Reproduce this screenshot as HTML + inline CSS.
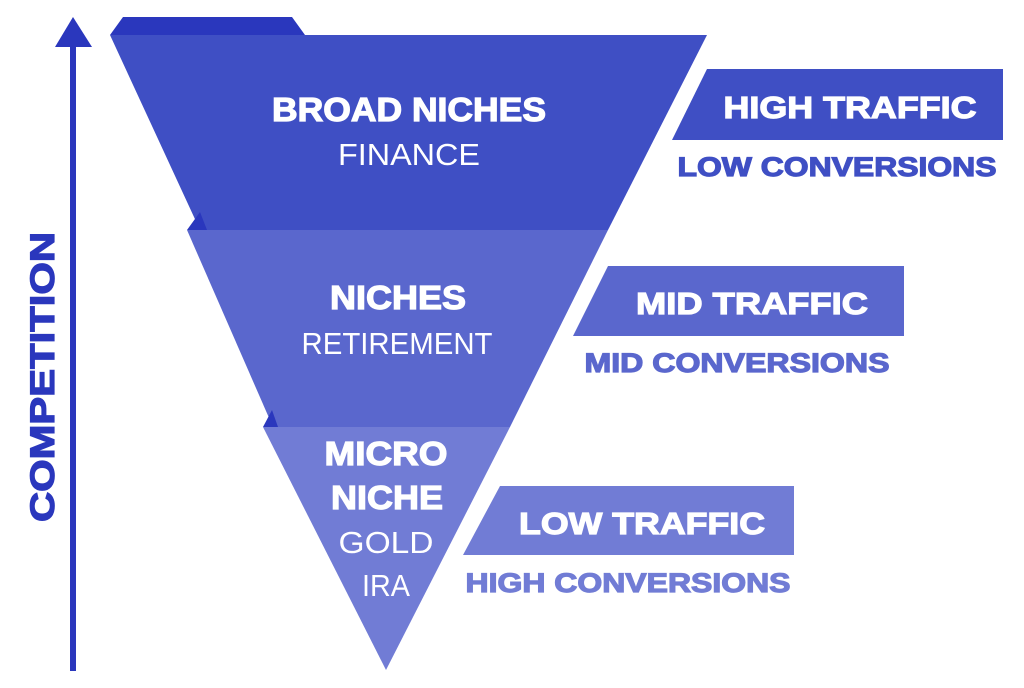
<!DOCTYPE html>
<html><head><meta charset="utf-8"><style>html,body{margin:0;padding:0;background:#fff}svg{display:block}</style></head><body>
<svg width="1024" height="688" viewBox="0 0 1024 688" xmlns="http://www.w3.org/2000/svg" font-family="'Liberation Sans', sans-serif">
<rect width="1024" height="688" fill="#fff"/>
<rect x="70" y="44" width="6" height="627" fill="#2a37bd"/>
<polygon points="55,47 73,17 92,47" fill="#2a37bd"/>
<text transform="translate(54,377) rotate(-90)" text-anchor="middle" font-size="34" font-weight="bold" fill="#2a37bd" stroke="#2a37bd" stroke-width="1.2" textLength="290" lengthAdjust="spacingAndGlyphs">COMPETITION</text>
<polygon points="110,35 123,17 292,17 305,35" fill="#2a37bd"/>
<polygon points="110,35 707,35 608,230 200,230" fill="#3f4fc4"/>
<polygon points="187,230 200,212 207,230" fill="#2a37bd"/>
<polygon points="187,230 608,230 510,427 273,427" fill="#5a67cd"/>
<polygon points="263,427 272,410 278,427" fill="#2a37bd"/>
<polygon points="263,427 510,427 386,670" fill="#717cd5"/>
<g fill="#fff" text-anchor="middle">
<text x="409" y="121" font-size="33" font-weight="bold" stroke="#fff" stroke-width="1.2" textLength="274" lengthAdjust="spacingAndGlyphs">BROAD NICHES</text>
<text x="409" y="165" font-size="31" textLength="142" lengthAdjust="spacingAndGlyphs">FINANCE</text>
<text x="398" y="309" font-size="33" font-weight="bold" stroke="#fff" stroke-width="1.2" textLength="136" lengthAdjust="spacingAndGlyphs">NICHES</text>
<text x="397" y="354" font-size="31" textLength="191" lengthAdjust="spacingAndGlyphs">RETIREMENT</text>
<text x="386" y="465" font-size="33" font-weight="bold" stroke="#fff" stroke-width="1.2" textLength="123" lengthAdjust="spacingAndGlyphs">MICRO</text>
<text x="387" y="509" font-size="33" font-weight="bold" stroke="#fff" stroke-width="1.2" textLength="112" lengthAdjust="spacingAndGlyphs">NICHE</text>
<text x="386" y="553" font-size="31" textLength="95" lengthAdjust="spacingAndGlyphs">GOLD</text>
<text x="386" y="596" font-size="31" textLength="48" lengthAdjust="spacingAndGlyphs">IRA</text>
</g>
<polygon points="707,69 1003,69 1003,140 672,140" fill="#3f4fc4"/>
<polygon points="608,266 904,266 904,336 573,336" fill="#5a67cd"/>
<polygon points="500,486 794,486 794,555 463,555" fill="#717cd5"/>
<g text-anchor="middle" font-weight="bold" stroke-width="1.2">
<text x="850" y="118" font-size="31" fill="#fff" stroke="#fff" textLength="253" lengthAdjust="spacingAndGlyphs">HIGH TRAFFIC</text>
<text x="837" y="176" font-size="27" fill="#3f4fc4" stroke="#3f4fc4" textLength="319" lengthAdjust="spacingAndGlyphs">LOW CONVERSIONS</text>
<text x="752" y="314" font-size="31" fill="#fff" stroke="#fff" textLength="232" lengthAdjust="spacingAndGlyphs">MID TRAFFIC</text>
<text x="737" y="372" font-size="27" fill="#5a67cd" stroke="#5a67cd" textLength="305" lengthAdjust="spacingAndGlyphs">MID CONVERSIONS</text>
<text x="642" y="534" font-size="31" fill="#fff" stroke="#fff" textLength="246" lengthAdjust="spacingAndGlyphs">LOW TRAFFIC</text>
<text x="628" y="592" font-size="27" fill="#717cd5" stroke="#717cd5" textLength="325" lengthAdjust="spacingAndGlyphs">HIGH CONVERSIONS</text>
</g>
</svg>
</body></html>
